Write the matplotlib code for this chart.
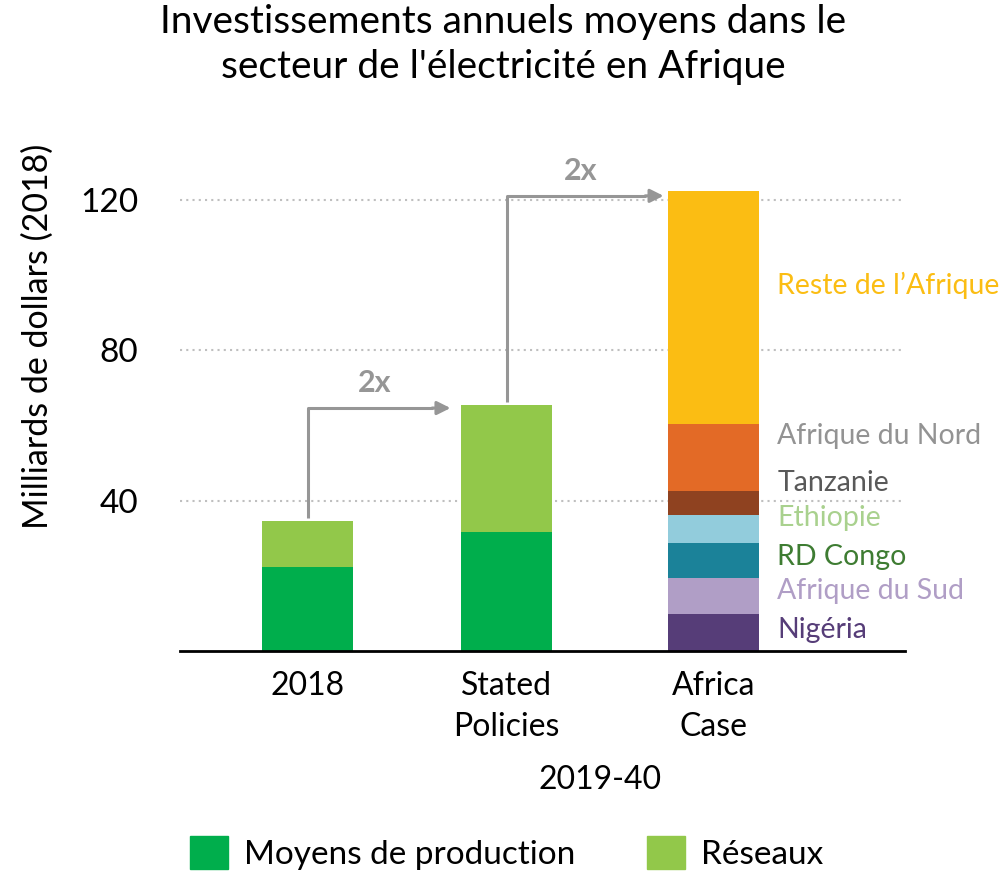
import matplotlib.pyplot as plt
from matplotlib.patches import Patch

plt.rcParams['font.family'] = ['Lato', 'DejaVu Sans']

# data (milliards de dollars 2018)
categories = ['2018', 'Stated\nPolicies', 'Africa\nCase']
production = [22.5, 31.8]
reseaux = [12.2, 33.7]

regions = ['Nigéria', 'Afrique du Sud', 'RD Congo', 'Ethiopie', 'Tanzanie',
           'Afrique du Nord', 'Reste de l\u2019Afrique']
region_values = [10.0, 9.6, 9.3, 7.4, 6.4, 17.8, 61.9]
region_colors = ['#563D78', '#B09EC6', '#1B8299', '#92CCDC', '#8F4220',
                 '#E36A26', '#FBBD13']
label_colors = ['#563D78', '#B09EC6', '#3E7C32', '#A9D18E', '#595959',
                '#939393', '#FBBD13']
label_y = [5.7, 16.1, 25.1, 35.5, 44.8, 57.3, 97.2]

c_prod = '#00AE4C'
c_res = '#92C84A'
grey = '#969696'

xpos = [0, 1, 2.04]
w = 0.457

fig = plt.figure(figsize=(10.07, 8.72), dpi=100)
ax = fig.add_axes([0.1787, 0.2529, 0.72, 0.5609])

ax.bar(xpos[:2], production, w, color=c_prod, zorder=3)
ax.bar(xpos[:2], reseaux, w, bottom=production, color=c_res, zorder=3)

bottom = 0
for v, c in zip(region_values, region_colors):
    ax.bar(xpos[2], v, w, bottom=bottom, color=c, zorder=3)
    bottom += v
totals = [production[0] + reseaux[0], production[1] + reseaux[1], bottom]

for name, y, c in zip(regions, label_y, label_colors):
    ax.text(xpos[2] + w / 2 + 0.09, y, name, color=c, fontsize=20.5,
            va='center', ha='left', clip_on=False)

# "2x" arrows
gaps = [0.04, 0.01]
drops = [0.8, 1.3]
for i in range(2):
    x0 = xpos[i]
    y0 = totals[i] + 0.8
    y1 = totals[i + 1] - drops[i]
    x1 = xpos[i + 1] - w / 2 - gaps[i]
    ax.plot([x0, x0, x1 - 0.1], [y0, y1, y1], color=grey, lw=2.2,
            solid_capstyle='butt', zorder=4, clip_on=False)
    ax.annotate('', xy=(x1, y1), xytext=(x1 - 0.12, y1),
                arrowprops=dict(arrowstyle='-|>,head_length=0.8,head_width=0.4',
                                color=grey, lw=2.2), annotation_clip=False)
    ax.text((x0 + x1) / 2 - 0.03, y1 + 6.7, '2x', color=grey, fontsize=22,
            fontweight='bold', ha='center', va='center')

ax.set_xlim(-0.641, 3.0)
ax.set_ylim(0, 130)
ax.set_yticks([40, 80, 120])
ax.tick_params(axis='y', length=0, labelsize=24, pad=30)
ax.set_xticks(xpos)
ax.set_xticklabels(categories, fontsize=23, linespacing=1.45)
ax.tick_params(axis='x', length=0, pad=14)
ax.grid(axis='y', linestyle=(0, (1, 2)), color='#BFBFBF', lw=1.5, zorder=0)
for s in ['top', 'right', 'left']:
    ax.spines[s].set_visible(False)
ax.spines['bottom'].set_linewidth(2)
ax.spines['bottom'].set_zorder(5)

ax.set_ylabel('Milliards de dollars (2018)', fontsize=24.5)
ax.yaxis.set_label_coords(-0.174, 0.645)
fig.text(0.596, 0.106, '2019-40', fontsize=23, ha='center', va='center')

fig.suptitle("Investissements annuels moyens dans le\nsecteur de l'électricité en Afrique",
             fontsize=28, y=0.995, va='top', linespacing=1.3)

handles = [Patch(color=c_prod, label='Moyens de production'),
           Patch(color=c_res, label='Réseaux')]
fig.legend(handles=handles, loc='center', bbox_to_anchor=(0.503, 0.022),
           ncol=2, frameon=False, fontsize=24, handlelength=1.15,
           handleheight=1.15, columnspacing=2.15, handletextpad=0.47,
           borderpad=0.1)

fig.savefig('out.png')
